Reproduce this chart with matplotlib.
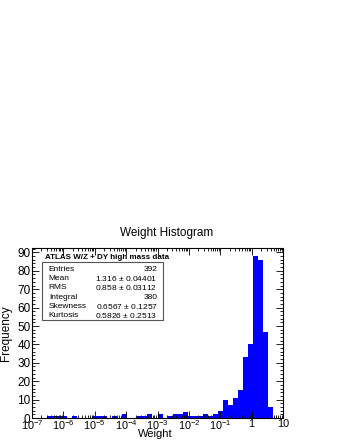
import numpy as np
import matplotlib
matplotlib.use('Agg')
import matplotlib.pyplot as plt
from matplotlib.ticker import MultipleLocator, FixedLocator, LogLocator, NullFormatter
from matplotlib.patches import Rectangle

plt.rcParams['font.family'] = ['Liberation Sans', 'DejaVu Sans']
plt.rcParams['mathtext.fontset'] = 'custom'
plt.rcParams['mathtext.rm'] = 'Liberation Sans'
plt.rcParams['mathtext.it'] = 'Liberation Sans'

# 50 log bins from 1e-7 to 10
bin_edges = np.logspace(-7, 1, 51)
counts = [0, 0, 0, 1, 1, 1, 1, 0, 1, 0,
          0, 0, 1, 1, 1, 0, 1, 0, 2, 0,
          0, 1, 1, 2, 0, 2, 0, 1, 2, 2,
          3, 1, 1, 1, 2, 1, 2, 4, 10, 7,
          11, 15, 33, 40, 88, 86, 47, 6, 0, 0]

xtick_pos = [1e-7, 1e-6, 1e-5, 1e-4, 1e-3, 1e-2, 1e-1, 1, 10]
xtick_labels = ['$10^{-7}$', '$10^{-6}$', '$10^{-5}$', '$10^{-4}$', '$10^{-3}$',
                '$10^{-2}$', '$10^{-1}$', '1', '10']

stat_names = ['Entries', 'Mean', 'RMS', 'Integral', 'Skewness', 'Kurtosis']
stat_values = ['392', '1.316 $\\pm$ 0.04401', '0.858 $\\pm$ 0.03112', '380',
               '0.6567 $\\pm$ 0.1257', '0.5826 $\\pm$ 0.2513']

fig = plt.figure(figsize=(3.4, 4.4), dpi=100)
ax = fig.add_axes([32/340, 1 - 418/440, 251/340, 170/440])

ax.stairs(counts, bin_edges, fill=True, color='#0000ff', linewidth=0)
ax.set_xscale('log')
ax.set_xlim(1e-7, 10)
ax.set_ylim(0, 92.4)

ax.xaxis.set_major_locator(FixedLocator(xtick_pos))
ax.set_xticklabels(xtick_labels)
ax.xaxis.set_minor_locator(LogLocator(base=10, subs=np.arange(2, 10), numticks=20))
ax.xaxis.set_minor_formatter(NullFormatter())
ax.yaxis.set_major_locator(MultipleLocator(10))
ax.yaxis.set_minor_locator(MultipleLocator(2))

ax.tick_params(which='both', direction='in', top=True, right=True,
               labelsize=8.5, width=0.6)
ax.tick_params(axis='x', pad=0.5, labelsize=7.8)
ax.tick_params(axis='y', pad=1)
ax.tick_params(which='major', length=5)
ax.tick_params(which='minor', length=2.5)
for s in ax.spines.values():
    s.set_linewidth(0.8)

ax.set_xlabel('Weight', fontsize=8)
ax.xaxis.set_label_coords(0.49, -0.066)
ax.set_ylabel('Frequency', fontsize=8.5)
ax.yaxis.set_label_coords(-0.08, 0.5)
fig.text(0.49, 1 - 233/440, 'Weight Histogram', ha='center', va='center', fontsize=8.5)

# ATLAS label and stats box
ax.text(0.052, 0.947, 'ATLAS W/Z + DY high mass data', transform=ax.transAxes,
        fontsize=5.8, fontweight='bold', va='center', ha='left')
ax.add_patch(Rectangle((0.04, 0.576), 0.48, 0.342, transform=ax.transAxes,
                       facecolor='white', edgecolor='#555555', linewidth=0.8, zorder=3))
row_y = 0.873
for name, val in zip(stat_names, stat_values):
    ax.text(0.067, row_y, name, transform=ax.transAxes, fontsize=6,
            va='center', ha='left', zorder=4)
    ax.text(0.5, row_y, val, transform=ax.transAxes, fontsize=6,
            va='center', ha='right', zorder=4)
    row_y -= 0.054

fig.savefig('out.png', dpi=100)
